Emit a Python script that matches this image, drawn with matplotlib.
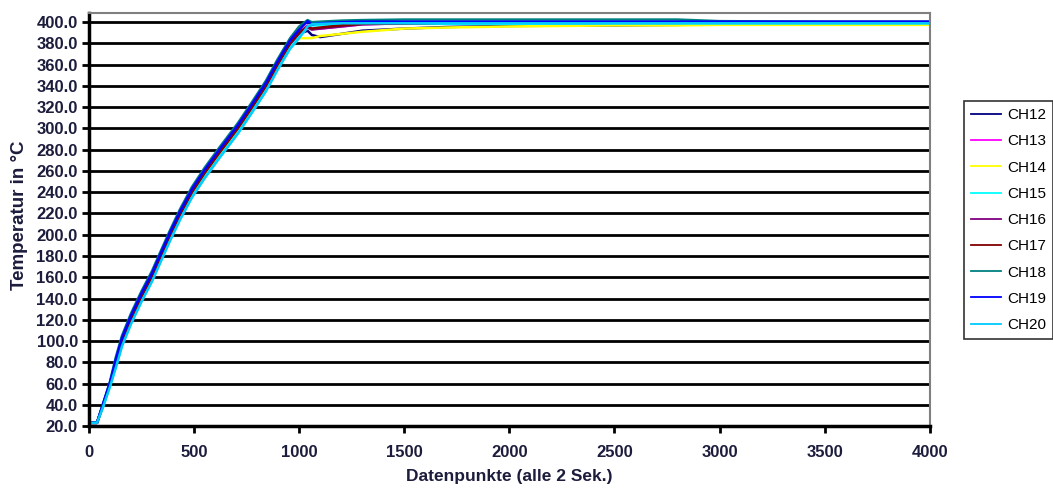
import matplotlib.pyplot as plt
from matplotlib.ticker import FormatStrFormatter, MultipleLocator

plt.rcParams['font.family'] = ['Liberation Sans', 'DejaVu Sans']

# sample index (every 2 s) and temperature per channel
x = [0, 38, 67, 100, 128, 157, 200, 250, 300, 340, 385, 433, 490, 550, 620, 708, 776,
     842, 897, 957, 1000, 1040, 1060, 1100, 1200, 1300, 1500, 1700, 2000, 2500, 2800,
     3000, 3500, 4000]

ch12 = [23, 23, 39, 59, 79, 99, 120, 141, 160, 178, 198, 218, 239, 257, 276, 299, 319,
        339, 359, 379, 389, 392, 388, 386, 389, 392, 394, 395.5, 396.5, 397, 397.5,
        398, 398.5, 399]
ch13 = [23, 23, 40, 60, 80, 100, 121, 142, 161, 179, 199, 219, 240, 258, 277, 300, 320,
        340, 360, 380, 390, 397, 394, 394, 396, 398, 399, 399.5, 399.5, 400, 400,
        400, 400, 400]
ch14 = [23, 23, 39, 58, 77, 97, 118, 139, 158, 176, 196, 216, 237, 255, 274, 297, 317,
        337, 357, 376, 385, 385, 385, 387, 389, 391, 394, 395, 396, 397, 397,
        397.5, 397.5, 397.5]
ch15 = [23, 23, 38, 58, 76, 96, 117, 138, 157, 175, 195, 215, 236, 254, 273, 296, 316,
        336, 356, 376, 386, 395, 397, 397, 398, 398.5, 398.5, 398.5, 398.5, 399, 399,
        399, 399, 399]
ch16 = [23, 23, 40, 60, 81, 101, 122, 143, 162, 180, 200, 220, 241, 259, 278, 301, 321,
        341, 361, 381, 391, 395, 393, 394, 396, 398, 399, 399.5, 400, 400, 400,
        400, 400, 400]
ch17 = [23, 23, 40, 60, 80, 100, 121, 142, 161, 179, 199, 219, 240, 258, 277, 300, 320,
        340, 360, 380, 390, 396, 394, 395, 397, 398.5, 399, 399.5, 400, 400, 400,
        400, 400, 400]
ch18 = [23, 23, 41, 62, 85, 105, 126, 147, 166, 184, 204, 224, 245, 263, 282, 305, 325,
        345, 365, 385, 396, 402, 400, 400.5, 401.5, 402, 402.5, 402.5, 402.5, 402.5,
        402.5, 401, 400.5, 400.5]
ch19 = [23, 23, 41, 61, 83, 103, 124, 145, 164, 182, 202, 222, 243, 261, 280, 303, 323,
        343, 363, 383, 393, 401, 398, 399, 400, 400.5, 400.5, 400.5, 400.5, 400.5,
        400.5, 400.5, 400.5, 400.5]
ch20 = [23, 23, 38, 57, 75, 95, 116, 137, 156, 174, 194, 214, 235, 253, 272, 295, 315,
        335, 355, 375, 385, 396, 398, 398.5, 399, 399, 399, 399, 399, 399, 399,
        399, 399, 399]

names = ['CH12', 'CH13', 'CH14', 'CH15', 'CH16', 'CH17', 'CH18', 'CH19', 'CH20']
series = [ch12, ch13, ch14, ch15, ch16, ch17, ch18, ch19, ch20]
colors = ['#000080', '#FF00FF', '#FFFF00', '#00FFFF', '#800080',
          '#800000', '#008080', '#0000FF', '#00CCFF']

fig = plt.figure(figsize=(10.53, 4.88), dpi=100)
ax = fig.add_axes([0.0845, 0.127, 0.7985, 0.846])

for name, y, c in zip(names, series, colors):
    ax.plot(x, y, color=c, lw=1.8, label=name)

ax.set_xlim(0, 4000)
ax.set_ylim(20, 408.5)
ax.xaxis.set_major_locator(MultipleLocator(500))
ax.set_yticks(range(20, 401, 20))
ax.yaxis.set_major_formatter(FormatStrFormatter('%.1f'))

ax.grid(axis='y', color='black', lw=2)
ax.set_axisbelow(True)

for side in ('left', 'bottom'):
    ax.spines[side].set_color('black')
    ax.spines[side].set_linewidth(2.5)
for side in ('top', 'right'):
    ax.spines[side].set_color('#808080')
    ax.spines[side].set_linewidth(1.5)

ax.tick_params(direction='out', length=5, width=2, labelsize=12, colors='black',
               labelcolor='#1c1c3c')
for lab in ax.get_xticklabels() + ax.get_yticklabels():
    lab.set_fontweight('bold')
ax.tick_params(axis='x', pad=9)
ax.tick_params(axis='y', pad=3)

ax.set_xlabel('Datenpunkte (alle 2 Sek.)', fontsize=12.5, fontweight='bold',
              color='#1c1c3c', labelpad=6)
ax.set_ylabel('Temperatur in °C', fontsize=13.5, fontweight='bold',
              color='#1c1c3c', labelpad=4)
ax.yaxis.set_label_coords(-0.072, 0.51)

leg = fig.legend(loc='center left', bbox_to_anchor=(0.9155, 0.549),
                 fontsize=11, frameon=True, fancybox=False,
                 handlelength=2.0, labelspacing=0.8, borderpad=0.45,
                 handletextpad=0.4, borderaxespad=0)
leg.get_frame().set_edgecolor('black')
leg.get_frame().set_linewidth(1.2)
for line in leg.get_lines():
    line.set_linewidth(1.3)

fig.savefig('out.png', dpi=100)
